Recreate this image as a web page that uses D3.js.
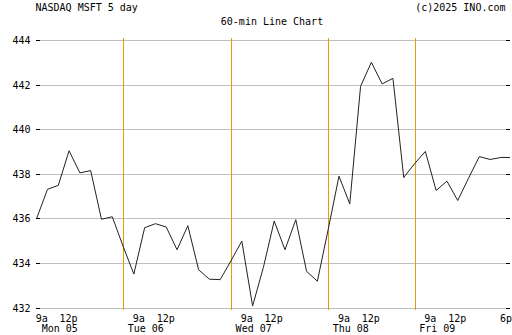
<!DOCTYPE html>
<html>
<head>
<meta charset="utf-8">
<script src="https://cdn.jsdelivr.net/npm/d3@7"></script>
<style>
  html, body { margin: 0; padding: 0; background: #fff; }
  svg { display: block; }
  text { font-family: "DejaVu Sans Mono", "Liberation Mono", monospace; font-size: 10px; fill: #000; }
</style>
</head>
<body>
<script>
// Hourly closes, MSFT, Mon 05 - Fri 09 (one entry per 60-min bar)
const prices = [
  436.00, 437.30, 437.48, 439.03, 438.04, 438.14, 435.96, 436.07,
  434.75,
  433.50, 435.58, 435.76, 435.61, 434.59, 435.67, 433.69, 433.27, 433.25,
  434.10,
  434.98, 432.07, 433.80, 435.88, 434.59, 435.94, 433.62, 433.18,
  435.50,
  437.89, 436.65, 441.92, 443.00, 442.03, 442.28, 437.83,
  438.45,
  439.00, 437.25, 437.67, 436.80, 437.80, 438.77, 438.64, 438.73, 438.73
];
// Bar index where each new day begins (separator lines)
const dayBreaks = [8, 18, 27, 35];
// Bar index of the 9:30 open for each day
const sessionOpen = [0, 9, 19, 28, 36];
const dayLabels = ["Mon 05", "Tue 06", "Wed 07", "Thu 08", "Fri 09"];
const yTicks = [432, 434, 436, 438, 440, 442, 444];
const hourLabels = ["9a", "12p"];
const closeLabel = "6p";
const titleLeft = "NASDAQ MSFT 5 day";
const titleRight = "(c)2025 INO.com";
const subtitle = "60-min Line Chart";

const W = 512, H = 335;
const plotL = 36, plotR = 510, plotT = 40, plotB = 307.5;

const svg = d3.select("body").append("svg").attr("width", W).attr("height", H);

const x = d3.scaleLinear().domain([0, prices.length - 1]).range([36.7, 511.7]);
const y = d3.scaleLinear().domain([432, 444]).range([plotB, plotT]);

svg.append("defs").append("clipPath").attr("id", "plot")
  .append("rect").attr("x", plotL).attr("y", 0).attr("width", plotR - plotL).attr("height", H);

const gy = d => Math.round(y(d)) + 0.5;

// horizontal grid
const grid = svg.append("g");
grid.selectAll("line.g").data(yTicks).join("line")
  .attr("x1", plotL).attr("x2", plotR)
  .attr("y1", gy).attr("y2", gy)
  .attr("stroke", "#c0c0c0").attr("stroke-width", 1);
// short black ticks at both ends
grid.append("g").selectAll("line").data(yTicks).join("line")
  .attr("x1", plotL).attr("x2", plotL + 4)
  .attr("y1", gy).attr("y2", gy)
  .attr("stroke", "#000");
grid.append("g").selectAll("line").data(yTicks).join("line")
  .attr("x1", plotR - 4).attr("x2", plotR)
  .attr("y1", gy).attr("y2", gy)
  .attr("stroke", "#000");

// y labels
svg.append("g").selectAll("text").data(yTicks).join("text")
  .attr("x", 30.5).attr("y", d => Math.round(y(d)) + 4)
  .attr("text-anchor", "end")
  .text(d => d);

// day separators
svg.append("g").selectAll("line").data(dayBreaks).join("line")
  .attr("x1", d => Math.round(x(d)) + 0.5).attr("x2", d => Math.round(x(d)) + 0.5)
  .attr("y1", 38).attr("y2", 310)
  .attr("stroke", "#e0a000").attr("stroke-width", 1);

// price line
const line = d3.line().x((d, i) => x(i)).y(d => y(d));
svg.append("path").datum(prices)
  .attr("clip-path", "url(#plot)")
  .attr("d", line)
  .attr("fill", "none")
  .attr("stroke", "#222")
  .attr("stroke-width", 1);

// x labels
const xl = svg.append("g");
sessionOpen.forEach((s, k) => {
  xl.append("text").attr("x", x(s) - 1).attr("y", 322).text(hourLabels[0]);
  xl.append("text").attr("x", x(s + 2) + 1.2).attr("y", 322).text(hourLabels[1]);
  const prev = k === 0 ? -1 : dayBreaks[k - 1];
  xl.append("text").attr("x", Math.max(x(prev) + 4.6, x(0) + 5)).attr("y", 332).text(dayLabels[k]);
});
xl.append("text").attr("x", x(prices.length - 2) - 1).attr("y", 322).text(closeLabel);

// titles
svg.append("text").attr("x", 35.5).attr("y", 11).text(titleLeft);
svg.append("text").attr("x", 505.5).attr("y", 11).attr("text-anchor", "end").text(titleRight);
svg.append("text").attr("x", 272).attr("y", 25).attr("text-anchor", "middle").text(subtitle);
</script>
</body>
</html>
